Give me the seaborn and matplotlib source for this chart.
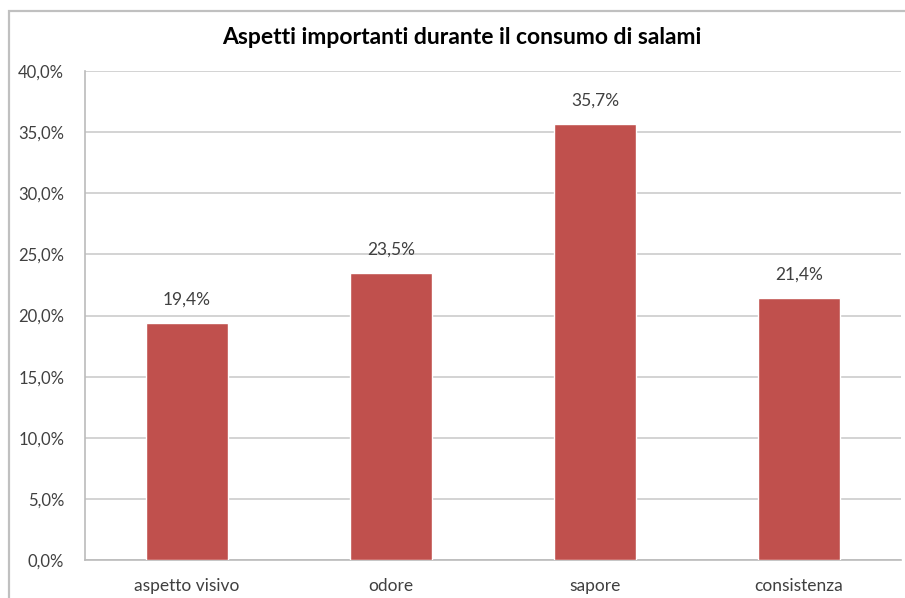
import matplotlib
matplotlib.use("Agg")
import matplotlib.pyplot as plt
import seaborn as sns
import pandas as pd
from matplotlib.patches import Rectangle

categories = ["aspetto visivo", "odore", "sapore", "consistenza"]
values = [19.4, 23.5, 35.7, 21.4]
value_labels = ["19,4%", "23,5%", "35,7%", "21,4%"]
yticks = [0, 5, 10, 15, 20, 25, 30, 35, 40]
ytick_labels = ["0,0%", "5,0%", "10,0%", "15,0%", "20,0%", "25,0%", "30,0%", "35,0%", "40,0%"]
title = "Aspetti importanti durante il consumo di salami"

sns.set_theme(style="white")
plt.rcParams['font.family'] = ['Lato', 'DejaVu Sans']

df = pd.DataFrame({"cat": categories, "val": values})

fig = plt.figure(figsize=(9.05, 5.98), dpi=100)
ax = fig.add_axes([85/905, 38/598, 816/905, 489/598])

sns.barplot(data=df, x="cat", y="val", color="#C0504D", width=0.4,
            saturation=1, ax=ax, zorder=3)

ax.set_ylim(0, 40)
ax.set_xlim(-0.5, 3.5)
ax.set_yticks(yticks)
ax.set_yticklabels(ytick_labels, fontsize=12, color="#404040")
ax.tick_params(axis="x", labelsize=12.5, colors="#404040", length=0, pad=13)
ax.tick_params(axis="y", length=0, pad=15)
ax.set_xlabel("")
ax.set_ylabel("")
ax.yaxis.grid(True, color="#CCCCCC", linewidth=1.2, zorder=0)
ax.set_axisbelow(True)
for s in ["top", "right"]:
    ax.spines[s].set_visible(False)
ax.spines["left"].set_color("#BBBBBB")
ax.spines["left"].set_linewidth(1.2)
ax.spines["bottom"].set_color("#BBBBBB")
ax.spines["bottom"].set_linewidth(1.2)

for p, lab in zip(ax.patches, value_labels):
    ax.annotate(lab, (p.get_x() + p.get_width() / 2, p.get_height()),
                xytext=(0, 11), textcoords="offset points",
                ha="center", va="bottom", fontsize=12.5, color="#404040")

fig.text(462/905, 1 - 38/598, title, ha="center", va="center",
         fontsize=16.5, fontweight="bold", color="#000000")

border = Rectangle((9/905, -0.2), 1.2, 1.2 - 11/598, transform=fig.transFigure,
                   fill=False, edgecolor="#C0C0C0", linewidth=1.6, clip_on=False)
fig.patches.append(border)

fig.savefig("out.png", dpi=100)
